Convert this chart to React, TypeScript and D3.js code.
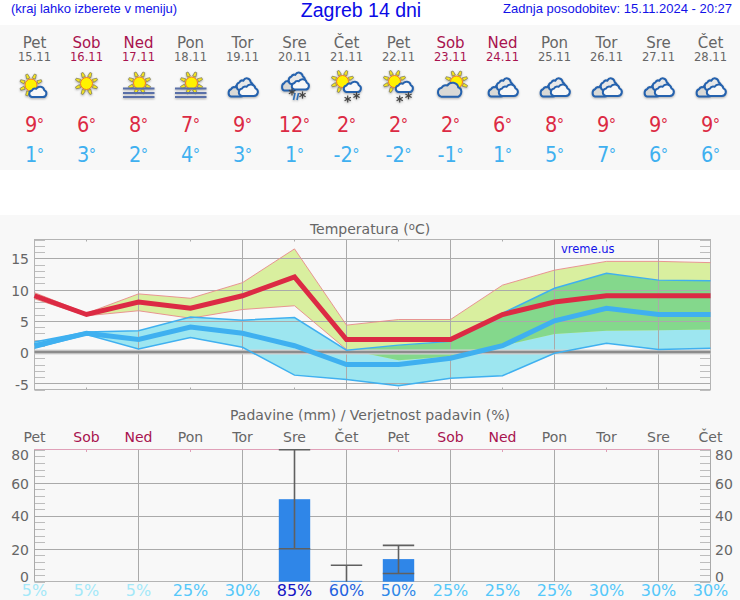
import React from 'react';
import * as d3 from 'd3';

const dayNames = ['Pet','Sob','Ned','Pon','Tor','Sre','Čet','Pet','Sob','Ned','Pon','Tor','Sre','Čet'];
const dates = ['15.11','16.11','17.11','18.11','19.11','20.11','21.11','22.11','23.11','24.11','25.11','26.11','27.11','28.11'];
const icons = ['sunCloud','sun','sunFog','sunFog','cloud','rainSnow','sunSnow','sunSnow','cloudSun','cloud','cloud','cloud','cloud','cloud'];
const tempMax = [9,6,8,7,9,12,2,2,2,6,8,9,9,9];
const tempMin = [1,3,2,4,3,1,-2,-2,-1,1,5,7,6,6];
const maxBandHi = [9.5,6.2,9.3,8.6,11.1,16.5,4.3,5.2,5.2,10.7,13.1,14.5,14.5,14.3];
const maxBandLo = [8.5,5.8,6.6,5.4,6.8,7.4,0.4,-1.3,-0.7,1.0,2.9,3.4,3.5,3.6];
const minBandHi = [1.6,3.2,3.4,5.6,5.1,5.5,0.3,1.1,1.7,6.2,10.2,12.6,11.5,11.4];
const minBandLo = [0.6,2.8,0.5,2.3,0.75,-3.7,-4.4,-5.4,-4.2,-3.8,-0.2,1.4,0.4,0.6];
const precipIdx = [5,6,7];
const precipBar = [50,0.5,13.7];
const precipHi = [80,10,22];
const precipLo = [20,0,5];
const probability = [5,5,5,25,30,85,60,50,25,25,25,30,30,30];
const tempTicks = [15,10,5,0,-5];
const rainTicks = [80,60,40,20,0];
const tempLabelY: Record<number, number> = {15:264,10:296,5:327,0:358,[-5]:390};
const rainLabelY: Record<number, number> = {80:460,60:489,40:521,20:555,0:582};

const FONT = '"DejaVu Sans", sans-serif';
const ARIAL = '"Liberation Sans", sans-serif';
const GREY = '#666666';
const WEEKEND = '#a8134f';
const RED = '#dc2a44';
const BLUE = '#3fb0f0';

const x = d3.scaleLinear().domain([0, 13]).range([34.5, 710.5]);
const yT = d3.scaleLinear().domain([-6, 18]).range([389.5, 239.5]);
const yR = d3.scaleLinear().domain([0, 80]).range([581.7, 449.7]);

const idx = d3.range(14);
const band = (hi: number[], lo: number[]) =>
  d3.area<number>().x(i => x(i)).y0(i => yT(lo[i])).y1(i => yT(hi[i]))(idx) as string;
const line = (v: number[], ids: number[] = idx) => d3.line<number>().x(i => x(i)).y(i => yT(v[i]))(ids) as string;

const probColor = (p: number) =>
  p >= 85 ? '#1414c4' : p >= 60 ? '#1f62e0' : p >= 50 ? '#2f88e8' : p >= 25 ? '#55c8fa' : '#a4e8f8';

const cloudD = 'M-7 7H8A5 5 0 0 0 10 -2.6A6 6 0 0 0 -1 -4.5A5 5 0 0 0 -7 -2.2A4.7 4.7 0 0 0 -7 7Z';

function Sun({ cx, cy, r = 6 }: { cx: number; cy: number; r?: number }) {
  const rays = d3.range(8).map(k => (k * Math.PI) / 4 + Math.PI / 8);
  return (
    <g>
      {rays.map((a, k) => {
        const c = Math.cos(a), s = Math.sin(a);
        const pts = [
          [cx + c * (r + 1) - s * 1.7, cy + s * (r + 1) + c * 1.7],
          [cx + c * (r + 5.5) - s * 1, cy + s * (r + 5.5) + c * 1],
          [cx + c * (r + 5.5) + s * 1, cy + s * (r + 5.5) - c * 1],
          [cx + c * (r + 1) + s * 1.7, cy + s * (r + 1) - c * 1.7],
        ];
        return <polygon key={k} points={pts.map(p => p.join(',')).join(' ')} fill="#f6e61e" stroke="#77745a" strokeWidth={0.7} />;
      })}
      <circle cx={cx} cy={cy} r={r} fill="#fff200" stroke="#f07a1c" strokeWidth={1} />
    </g>
  );
}

function Cloud({ tx, ty, s = 1, sy, fill = '#f8f8f8' }: { tx: number; ty: number; s?: number; sy?: number; fill?: string }) {
  return <path d={cloudD} transform={`translate(${tx},${ty}) scale(${s},${sy ?? s})`} fill={fill} stroke="#2562ae" strokeWidth={2} vectorEffect="non-scaling-stroke" strokeLinejoin="round" />;
}

function Flake({ cx, cy }: { cx: number; cy: number }) {
  const a = [0, 60, 120];
  return (
    <g stroke="#444" strokeWidth={1.2}>
      {a.map(d => {
        const r = (d * Math.PI) / 180 + Math.PI / 2;
        return <line key={d} x1={cx - Math.cos(r) * 3.6} y1={cy - Math.sin(r) * 3.6} x2={cx + Math.cos(r) * 3.6} y2={cy + Math.sin(r) * 3.6} />;
      })}
    </g>
  );
}

function Icon({ kind, cx }: { kind: string; cx: number }) {
  if (kind === 'sun') return <Sun cx={cx} cy={83.5} r={6} />;
  if (kind === 'sunCloud')
    return (
      <g>
        <Sun cx={cx - 3.5} cy={85} r={6} />
        <Cloud tx={cx + 2.5} ty={92} s={0.72} />
      </g>
    );
  if (kind === 'sunFog')
    return (
      <g>
        <Sun cx={cx + 1} cy={83} r={6} />
        {[88.5, 93, 97].map((y, k) => (
          <line key={k} x1={cx - 15.5} x2={cx + 16} y1={y} y2={y} stroke="#5a70a8" strokeWidth={2} />
        ))}
      </g>
    );
  if (kind === 'cloud')
    return (
      <g>
        <Cloud tx={cx - 6.8} ty={91} s={0.66} sy={0.8} fill="#d9d9d6" />
        <Cloud tx={cx + 1.5} ty={84.4} s={0.68} sy={0.82} fill="#e8e8e8" />
        <Cloud tx={cx + 4.9} ty={90.4} s={0.8} />
      </g>
    );
  if (kind === 'rainSnow')
    return (
      <g>
        <Cloud tx={cx - 6} ty={85} s={0.6} sy={0.8} fill="#d9d9d6" />
        <Cloud tx={cx + 1.5} ty={78.5} s={0.68} sy={0.8} fill="#e8e8e8" />
        <Cloud tx={cx + 5} ty={84.5} s={0.72} />
        <Flake cx={cx - 2.5} cy={92} />
        <Flake cx={cx + 8} cy={95} />
        <g stroke="#2f6fb8" strokeWidth={1.6}>
          <line x1={cx + 0.5} y1={93} x2={cx - 1} y2={100} />
          <line x1={cx + 4} y1={93} x2={cx + 2.5} y2={100} />
        </g>
      </g>
    );
  if (kind === 'sunSnow')
    return (
      <g>
        <Sun cx={cx - 4} cy={81.5} r={6} />
        <Cloud tx={cx + 5} ty={87} s={0.72} />
        <Flake cx={cx + 1.2} cy={99} />
        <Flake cx={cx + 10} cy={95.7} />
      </g>
    );
  return (
    <g>
      <Sun cx={cx + 6} cy={82} r={6} />
      <Cloud tx={cx - 2} ty={90} s={0.98} fill="#d9d9d6" />
    </g>
  );
}

function Ticks({ scale, step, lo, hi }: { scale: d3.ScaleLinear<number, number>; step: number; lo: number; hi: number }) {
  const vals = d3.range(lo, hi + 0.01, step);
  return (
    <g stroke="#bdbdbd" strokeWidth={1}>
      {vals.map(v => (
        <g key={v}>
          <line x1={34.5} x2={45} y1={Math.round(scale(v)) + 0.5} y2={Math.round(scale(v)) + 0.5} />
          <line x1={700} x2={710.5} y1={Math.round(scale(v)) + 0.5} y2={Math.round(scale(v)) + 0.5} />
        </g>
      ))}
    </g>
  );
}

const Deg = () => <tspan fontSize={16} dx={-0.5} dy={-2}>°</tspan>;

export default function App() {
  return (
    <svg width={740} height={600} style={{ position: 'absolute', left: 0, top: 0, fontFamily: FONT }}>
      <defs>
        <clipPath id="maxClip"><path d={band(maxBandHi, maxBandLo)} /></clipPath>
      </defs>
      <rect width={740} height={600} fill="#ffffff" />
      <rect y={25} width={740} height={145} fill="#f8f8f8" />
      <rect y={215} width={740} height={385} fill="#f8f8f8" />

      <text x={11} y={13} fontFamily={ARIAL} fontSize={13} fill="#1212e8">(kraj lahko izberete v meniju)</text>
      <text x={361} y={16.5} textAnchor="middle" fontFamily={ARIAL} fontSize={19.5} fill="#0a0ae6">Zagreb 14 dni</text>
      <text x={732} y={13} textAnchor="end" fontFamily={ARIAL} fontSize={13} fill="#1212e8">Zadnja posodobitev: 15.11.2024 - 20:27</text>

      {idx.map(i => {
        const c = dayNames[i] === 'Sob' || dayNames[i] === 'Ned' ? WEEKEND : GREY;
        return (
          <g key={i} textAnchor="middle">
            <text x={x(i)} y={48} fontSize={15} fill={c}>{dayNames[i]}</text>
            <text x={x(i)} y={60.5} fontSize={11.5} fill={c}>{dates[i]}</text>
            <g style={{ filter: 'drop-shadow(0.5px 1.5px 0.8px rgba(0,0,0,0.3))' }}>
              <Icon kind={icons[i]} cx={x(i)} />
            </g>
            <text transform={`translate(${x(i)},132) scale(0.92,1)`} fontSize={21} fill={RED}>{tempMax[i]}<Deg /></text>
            <text transform={`translate(${x(i)},162) scale(0.92,1)`} fontSize={21} fill={BLUE}>{tempMin[i]}<Deg /></text>
          </g>
        );
      })}

      <text x={370} y={234} textAnchor="middle" fontSize={14} fill={GREY}>Temperatura (<tspan fontSize={10} dy={-4}>o</tspan><tspan dy={4}>C)</tspan></text>

      <Ticks scale={yT} step={1} lo={-6} hi={18} />
      <path d={band(minBandHi, minBandLo)} fill="#9de6f0" />
      <path d={band(maxBandHi, maxBandLo)} fill="#d9ef9f" />
      <path d={band(minBandHi, minBandLo)} fill="#84d88c" clipPath="url(#maxClip)" />
      <g stroke="#aaaaaa" strokeWidth={1}>
        {tempTicks.filter(t => t !== 0).map(t => <line key={t} x1={34.5} x2={710.5} y1={Math.round(yT(t)) + 0.5} y2={Math.round(yT(t)) + 0.5} />)}
        {idx.map(i => i % 2 === 0
          ? <line key={i} x1={x(i)} x2={x(i)} y1={239.5} y2={389.5} />
          : <g key={i}><line x1={x(i)} x2={x(i)} y1={239.5} y2={241.5} /><line x1={x(i)} x2={x(i)} y1={387.5} y2={389.5} /></g>)}
      </g>
      <rect x={34.5} y={239.5} width={676} height={150} fill="none" stroke="#b4b4b4" />
      <line x1={34.5} x2={710.5} y1={352} y2={352} stroke="#d4d4d4" strokeWidth={5} />
      <line x1={34.5} x2={710.5} y1={352} y2={352} stroke="#8c8c8c" strokeWidth={2.4} />

      <path d={line(maxBandHi)} fill="none" stroke="#e88a8a" strokeWidth={0.9} />
      <path d={line(maxBandLo, idx.slice(0, 7))} fill="none" stroke="#e88a8a" strokeWidth={0.9} />
      <path d={line(minBandHi)} fill="none" stroke={BLUE} strokeWidth={1.5} />
      <path d={line(minBandLo)} fill="none" stroke={BLUE} strokeWidth={1.5} />
      <path d={line(tempMin)} fill="none" stroke={BLUE} strokeWidth={5} strokeLinejoin="miter" />
      <path d={line(tempMax)} fill="none" stroke={RED} strokeWidth={5} strokeLinejoin="miter" />
      <text x={561} y={253} fontSize={11.5} fill="#1212e8">vreme.us</text>

      {tempTicks.map(t => <text key={t} x={29} y={tempLabelY[t]} textAnchor="end" fontSize={14} fill={GREY}>{t}</text>)}

      <text x={370} y={420} textAnchor="middle" fontSize={14} fill={GREY}>Padavine (mm) / Verjetnost padavin (%)</text>
      {idx.map(i => (
        <text key={i} x={x(i)} y={442} textAnchor="middle" fontSize={14} fill={dayNames[i] === 'Sob' || dayNames[i] === 'Ned' ? WEEKEND : GREY}>{dayNames[i]}</text>
      ))}

      <Ticks scale={yR} step={4} lo={0} hi={80} />
      <g stroke="#aaaaaa" strokeWidth={1}>
        {rainTicks.filter(t => t !== 0 && t !== 80).map(t => <line key={t} x1={34.5} x2={710.5} y1={Math.round(yR(t)) + 0.5} y2={Math.round(yR(t)) + 0.5} />)}
        {idx.map(i => i % 2 === 0
          ? <line key={i} x1={x(i)} x2={x(i)} y1={449.5} y2={581.5} />
          : <line key={i} x1={x(i)} x2={x(i)} y1={449.5} y2={452} stroke="#e0a0b8" />)}
        <line x1={34.5} x2={34.5} y1={449.5} y2={581.5} />
        <line x1={710.5} x2={710.5} y1={449.5} y2={581.5} />
        <line x1={34.5} x2={710.5} y1={581.5} y2={581.5} stroke="#b4b4b4" />
      </g>
      <line x1={34.5} x2={710.5} y1={449.5} y2={449.5} stroke="#e0a0b8" />

      {precipIdx.map((d, k) => (
        <g key={d}>
          <rect x={x(d) - 15.7} width={31.4} y={yR(precipBar[k])} height={yR(0) - yR(precipBar[k])} fill="#2f86e8" />
          <g stroke="#606060" strokeWidth={1.6}>
            <line x1={x(d)} x2={x(d)} y1={yR(precipHi[k])} y2={yR(precipLo[k])} />
            <line x1={x(d) - 15.7} x2={x(d) + 15.7} y1={yR(precipHi[k])} y2={yR(precipHi[k])} />
            {precipLo[k] > 0 && <line x1={x(d) - 15.7} x2={x(d) + 15.7} y1={yR(precipLo[k])} y2={yR(precipLo[k])} />}
          </g>
        </g>
      ))}

      {rainTicks.map(t => (
        <g key={t} fontSize={14} fill={GREY}>
          <text x={29} y={rainLabelY[t]} textAnchor="end">{t}</text>
          <text x={715} y={rainLabelY[t]}>{t}</text>
        </g>
      ))}
      {idx.map(i => (
        <text key={i} x={x(i)} y={596} textAnchor="middle" fontSize={16} fill={probColor(probability[i])}>{probability[i]}%</text>
      ))}
    </svg>
  );
}
